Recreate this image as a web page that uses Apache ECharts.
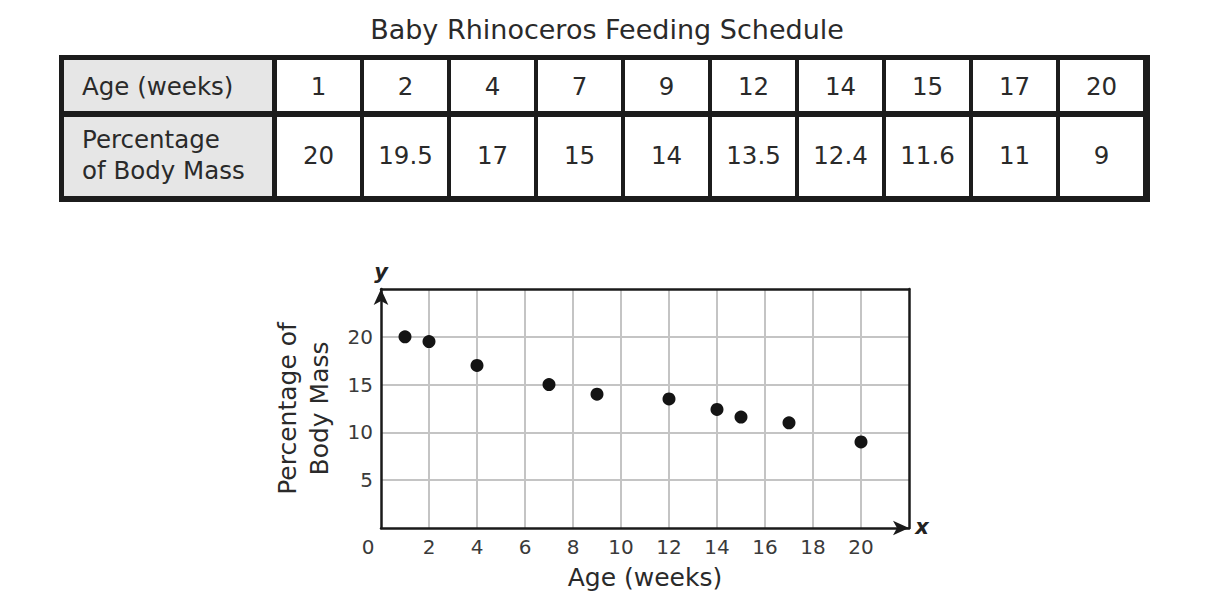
<!DOCTYPE html>
<html>
<head>
<meta charset="utf-8">
<script src="https://cdn.jsdelivr.net/npm/echarts@6/dist/echarts.min.js"></script>
<style>
html,body{margin:0;padding:0;background:#fff;}
#main{width:1214px;height:616px;}
</style>
</head>
<body>
<div id="main"></div>
<script>
// ---- data ----
const title = 'Baby Rhinoceros Feeding Schedule';
const rowHeaders = ['Age (weeks)', 'Percentage\nof Body Mass'];
const ages = [1, 2, 4, 7, 9, 12, 14, 15, 17, 20];
const pct = ['20', '19.5', '17', '15', '14', '13.5', '12.4', '11.6', '11', '9'];
const xName = 'Age (weeks)';
const yName = 'Percentage of\nBody Mass';

const FONT = '"DejaVu Sans", Verdana, sans-serif';
const TXT = '#2a2a2a';
const TFS = 24.5;

// ---- table built as graphic elements ----
const T = {x: 59, y: 55, w: 1091, h: 147, hdrX: 64, hdrW: 208, r1y: 60, r1h: 51, r2y: 117, r2h: 79, c0: 277, pitch: 87, cw: 83};
const g = [];
g.push({type: 'rect', shape: {x: T.x, y: T.y, width: T.w, height: T.h}, style: {fill: '#1c1c1c'}, z: 10});
g.push({type: 'rect', shape: {x: T.hdrX, y: T.r1y, width: T.hdrW, height: T.r1h}, style: {fill: '#e6e6e6'}, z: 11});
g.push({type: 'rect', shape: {x: T.hdrX, y: T.r2y, width: T.hdrW, height: T.r2h}, style: {fill: '#e6e6e6'}, z: 11});
function txt(s, x, y, align, size, lh) {
  return {type: 'text', x: x, y: y, z: 12,
    style: {text: s, fill: TXT, font: size + 'px ' + FONT, fontSize: size, fontFamily: FONT,
      textAlign: align, align: align, textVerticalAlign: 'middle', verticalAlign: 'middle', lineHeight: lh || size * 1.2}};
}
g.push(txt(rowHeaders[0], 82, T.r1y + T.r1h / 2 + 1, 'left', TFS));
g.push(txt(rowHeaders[1], 82, T.r2y + T.r2h / 2 - 2, 'left', TFS, 31));
ages.forEach(function (a, i) {
  const cx = T.c0 + T.pitch * i;
  g.push({type: 'rect', shape: {x: cx, y: T.r1y, width: T.cw, height: T.r1h}, style: {fill: '#fff'}, z: 11});
  g.push({type: 'rect', shape: {x: cx, y: T.r2y, width: T.cw, height: T.r2h}, style: {fill: '#fff'}, z: 11});
  g.push(txt(String(a), cx + T.cw / 2, T.r1y + T.r1h / 2 + 1, 'center', TFS));
  g.push(txt(pct[i], cx + T.cw / 2, T.r2y + T.r2h / 2 - 1, 'center', TFS));
});
// axis letters
g.push({type: 'text', x: 381, y: 272, z: 12, style: {text: 'y', fill: '#222', font: 'italic bold 21px ' + FONT, textAlign: 'center', align: 'center', textVerticalAlign: 'middle', verticalAlign: 'middle'}});
g.push({type: 'text', x: 922, y: 527, z: 12, style: {text: 'x', fill: '#222', font: 'italic bold 21px ' + FONT, textAlign: 'center', align: 'center', textVerticalAlign: 'middle', verticalAlign: 'middle'}});

const scatterData = ages.map(function (a, i) { return [a, parseFloat(pct[i])]; });

const chart = echarts.init(document.getElementById('main'), null, {renderer: 'svg'});
chart.setOption({
  animation: false,
  backgroundColor: '#fff',
  textStyle: {fontFamily: FONT},
  title: {text: title, left: 'center', top: 11, textStyle: {fontFamily: FONT, fontSize: 27, fontWeight: 'normal', color: TXT}},
  grid: {left: 381, top: 289, width: 528, height: 239, containLabel: false},
  xAxis: [{
    type: 'value', min: 0, max: 22, interval: 2, position: 'bottom',
    name: xName, nameLocation: 'middle', nameGap: 37,
    nameTextStyle: {fontFamily: FONT, fontSize: 25, color: TXT},
    axisLine: {show: true, onZero: false, lineStyle: {color: '#1a1a1a', width: 2.5}, symbol: ['none', 'arrow'], symbolSize: [11, 16]},
    axisTick: {show: false},
    axisLabel: {margin: 9, color: '#3a3a3a', fontFamily: FONT, fontSize: 20,
      formatter: function (v) { if (v === 0) return '{z|0}'; if (v > 20) return ''; return String(v); },
      rich: {z: {fontFamily: FONT, fontSize: 20, color: '#3a3a3a', padding: [0, 26, 0, 0]}}},
    splitLine: {show: true, showMaxLine: false, showMinLine: false, lineStyle: {color: '#c4c4c4', width: 2}}
  }, {
    type: 'value', min: 0, max: 22, position: 'top', z: 4,
    axisLine: {show: true, onZero: false, lineStyle: {color: '#1a1a1a', width: 2.5}},
    axisTick: {show: false}, axisLabel: {show: false}, splitLine: {show: false}
  }],
  yAxis: [{
    type: 'value', min: 0, max: 25, interval: 5, position: 'left',
    name: yName, nameLocation: 'middle', nameGap: 46, nameRotate: 90,
    nameTextStyle: {fontFamily: FONT, fontSize: 25, color: TXT, lineHeight: 32},
    axisLine: {show: true, onZero: false, lineStyle: {color: '#1a1a1a', width: 2.5}, symbol: ['none', 'arrow'], symbolSize: [11, 16]},
    axisTick: {show: false},
    axisLabel: {margin: 8, color: '#3a3a3a', fontFamily: FONT, fontSize: 20,
      formatter: function (v) { return (v === 0 || v > 20) ? '' : String(v); }},
    splitLine: {show: true, showMaxLine: false, showMinLine: false, lineStyle: {color: '#c4c4c4', width: 2}}
  }, {
    type: 'value', min: 0, max: 25, position: 'right', z: 4,
    axisLine: {show: true, onZero: false, lineStyle: {color: '#1a1a1a', width: 2.5}},
    axisTick: {show: false}, axisLabel: {show: false}, splitLine: {show: false}
  }],
  series: [{
    type: 'scatter', xAxisIndex: 0, yAxisIndex: 0, data: scatterData,
    symbol: 'circle', symbolSize: 13, itemStyle: {color: '#141414', opacity: 1}, z: 5
  }],
  graphic: {elements: g}
});
</script>
</body>
</html>
